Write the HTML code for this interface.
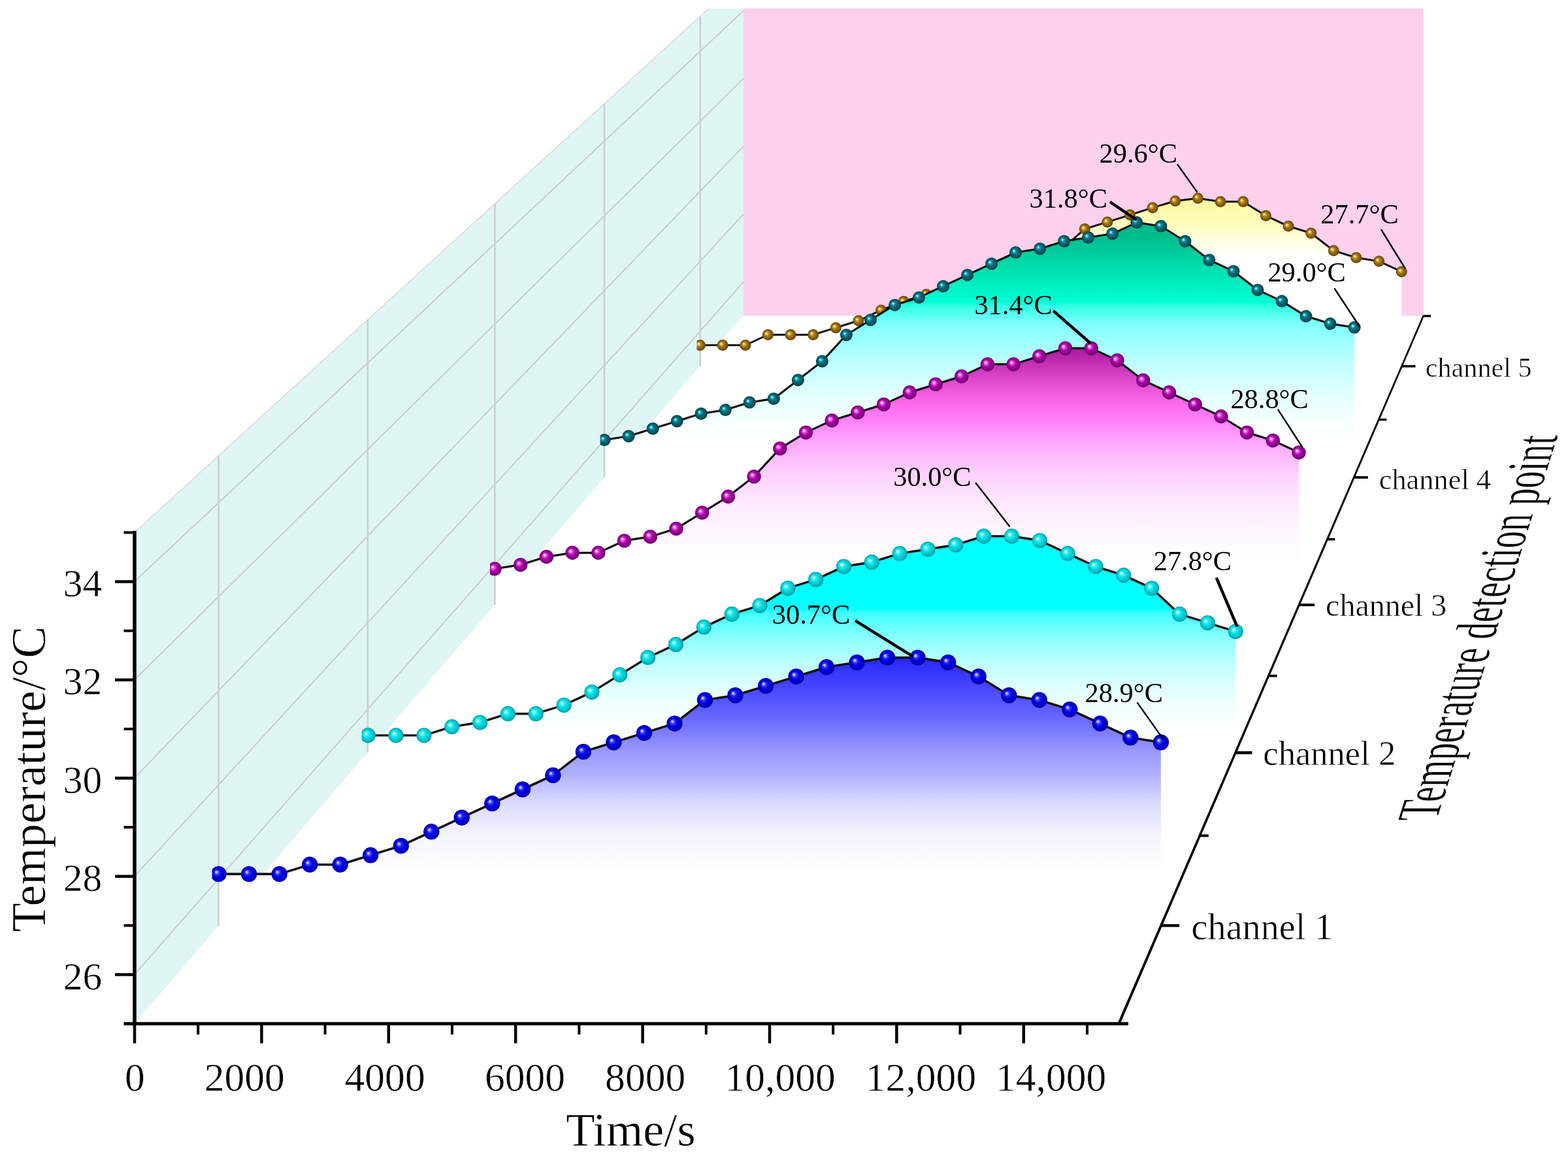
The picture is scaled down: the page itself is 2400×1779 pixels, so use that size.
<!DOCTYPE html>
<html lang="en">
<head>
<meta charset="utf-8">
<title>Temperature of detection channels over time</title>
<style>html,body{margin:0;padding:0;background:#fff;}body{width:2400px;height:1779px;}svg{display:block;}</style>
</head>
<body>
<svg width="2400" height="1779" viewBox="0 0 2400 1779" role="img" aria-label="Temperature of five detection channels over time">
<defs>
<linearGradient id="g1" gradientUnits="userSpaceOnUse" x1="0" y1="1006" x2="0" y2="1417.3">
<stop offset="0" stop-color="#2626ff"/>
<stop offset="0.22" stop-color="#6666ff"/>
<stop offset="0.35" stop-color="#9898ff"/>
<stop offset="0.44" stop-color="#b2b2ff"/>
<stop offset="0.55" stop-color="#dcdcff"/>
<stop offset="0.68" stop-color="#f6f6ff"/>
<stop offset="0.8" stop-color="#ffffff"/>
<stop offset="1" stop-color="#ffffff"/>
</linearGradient>
<radialGradient id="b1" cx="0.5" cy="0.5" r="0.52" fx="0.34" fy="0.36">
<stop offset="0" stop-color="#c8c8ff"/>
<stop offset="0.08" stop-color="#c8c8ff"/>
<stop offset="0.26" stop-color="#3838f8"/>
<stop offset="0.5" stop-color="#0000e6"/>
<stop offset="0.85" stop-color="#0000c0"/>
<stop offset="1" stop-color="#000088"/>
</radialGradient>
<linearGradient id="g2" gradientUnits="userSpaceOnUse" x1="0" y1="819" x2="0" y2="1152.4">
<stop offset="0" stop-color="#00ffff"/>
<stop offset="0.335" stop-color="#00ffff"/>
<stop offset="0.36" stop-color="#40ffff"/>
<stop offset="0.455" stop-color="#80ffff"/>
<stop offset="0.537" stop-color="#a8ffff"/>
<stop offset="0.618" stop-color="#c8ffff"/>
<stop offset="0.7" stop-color="#e0ffff"/>
<stop offset="0.78" stop-color="#f0ffff"/>
<stop offset="0.88" stop-color="#fbffff"/>
<stop offset="1" stop-color="#ffffff"/>
</linearGradient>
<radialGradient id="b2" cx="0.5" cy="0.5" r="0.52" fx="0.34" fy="0.36">
<stop offset="0" stop-color="#f0ffff"/>
<stop offset="0.08" stop-color="#f0ffff"/>
<stop offset="0.26" stop-color="#30f4f8"/>
<stop offset="0.5" stop-color="#00dce0"/>
<stop offset="0.85" stop-color="#00b4bc"/>
<stop offset="1" stop-color="#008890"/>
</radialGradient>
<linearGradient id="g3" gradientUnits="userSpaceOnUse" x1="0" y1="532" x2="0" y2="926.1">
<stop offset="0" stop-color="#a8189e"/>
<stop offset="0.17" stop-color="#f058dc"/>
<stop offset="0.228" stop-color="#ff6cee"/>
<stop offset="0.3" stop-color="#ff88fc"/>
<stop offset="0.357" stop-color="#ffa2ff"/>
<stop offset="0.487" stop-color="#ffd0ff"/>
<stop offset="0.616" stop-color="#ffecff"/>
<stop offset="0.7" stop-color="#fff5ff"/>
<stop offset="0.78" stop-color="#fffbff"/>
<stop offset="0.86" stop-color="#ffffff"/>
<stop offset="1" stop-color="#ffffff"/>
</linearGradient>
<radialGradient id="b3" cx="0.5" cy="0.5" r="0.52" fx="0.34" fy="0.36">
<stop offset="0" stop-color="#ffd0ff"/>
<stop offset="0.08" stop-color="#ffd0ff"/>
<stop offset="0.26" stop-color="#e050dc"/>
<stop offset="0.5" stop-color="#a800a4"/>
<stop offset="0.85" stop-color="#800080"/>
<stop offset="1" stop-color="#540054"/>
</radialGradient>
<linearGradient id="g4" gradientUnits="userSpaceOnUse" x1="0" y1="340" x2="0" y2="730.9">
<stop offset="0" stop-color="#00b488"/>
<stop offset="0.07" stop-color="#00c090"/>
<stop offset="0.217" stop-color="#00e8b8"/>
<stop offset="0.312" stop-color="#00ffd5"/>
<stop offset="0.328" stop-color="#30ffe4"/>
<stop offset="0.4" stop-color="#80ffff"/>
<stop offset="0.435" stop-color="#90ffff"/>
<stop offset="0.532" stop-color="#b8ffff"/>
<stop offset="0.662" stop-color="#e0ffff"/>
<stop offset="0.79" stop-color="#f8ffff"/>
<stop offset="0.9" stop-color="#ffffff"/>
<stop offset="1" stop-color="#ffffff"/>
</linearGradient>
<radialGradient id="b4" cx="0.5" cy="0.5" r="0.52" fx="0.34" fy="0.36">
<stop offset="0" stop-color="#98f0ff"/>
<stop offset="0.08" stop-color="#98f0ff"/>
<stop offset="0.26" stop-color="#1c94a4"/>
<stop offset="0.5" stop-color="#006a76"/>
<stop offset="0.85" stop-color="#004c56"/>
<stop offset="1" stop-color="#002c34"/>
</radialGradient>
<linearGradient id="g5" gradientUnits="userSpaceOnUse" x1="0" y1="302" x2="0" y2="560.7">
<stop offset="0" stop-color="#fffaa0"/>
<stop offset="0.055" stop-color="#fffaa8"/>
<stop offset="0.166" stop-color="#fffcc0"/>
<stop offset="0.25" stop-color="#fffee0"/>
<stop offset="0.34" stop-color="#fffffa"/>
<stop offset="0.4" stop-color="#ffffff"/>
<stop offset="1" stop-color="#ffffff"/>
</linearGradient>
<radialGradient id="b5" cx="0.5" cy="0.5" r="0.52" fx="0.34" fy="0.36">
<stop offset="0" stop-color="#ffeeb0"/>
<stop offset="0.08" stop-color="#ffeeb0"/>
<stop offset="0.26" stop-color="#d0a038"/>
<stop offset="0.5" stop-color="#9c7010"/>
<stop offset="0.85" stop-color="#74500a"/>
<stop offset="1" stop-color="#4c3200"/>
</radialGradient>
</defs>
<rect width="2400" height="1779" fill="#ffffff"/>
<clipPath id="wc"><rect x="0" y="13" width="2400" height="1779"/></clipPath>
<g clip-path="url(#wc)">
<polygon points="206,815 1138,-35.5 1138,483.5 206,1567" fill="#E0F6F5"/>
<line x1="206" y1="815" x2="1138" y2="-35.5" stroke="#DADADA" stroke-width="1.5"/>
<line x1="206" y1="1491.8" x2="1138" y2="431.6" stroke="#C4C9C9" stroke-width="1.8"/>
<line x1="206" y1="1341.4" x2="1138" y2="327.8" stroke="#C4C9C9" stroke-width="1.8"/>
<line x1="206" y1="1191" x2="1138" y2="224" stroke="#C4C9C9" stroke-width="1.8"/>
<line x1="206" y1="1040.6" x2="1138" y2="120.2" stroke="#C4C9C9" stroke-width="1.8"/>
<line x1="206" y1="890.2" x2="1138" y2="16.4" stroke="#C4C9C9" stroke-width="1.8"/>
</g>
<rect x="1138" y="13" width="1040.6" height="470.5" fill="#FDD0EC"/>
<polygon points="1071.5,560.7 1071.5,528.5 1106.1,528.5 1140.8,528.5 1175.4,512.5 1210,512.5 1244.7,512.5 1279.3,501.7 1313.9,491 1348.6,474.9 1383.2,461.5 1417.9,450.8 1452.5,445.5 1487.1,432.1 1521.8,421.3 1556.4,407.9 1591,397.2 1625.7,381.1 1660.3,350.6 1694.9,339.9 1729.6,329.1 1764.2,317.9 1798.8,307.7 1833.5,303.4 1868.1,308.8 1902.8,308.8 1937.4,330.2 1972,346.3 2006.7,357 2041.3,383.8 2075.9,394.5 2110.6,399.9 2145.2,416 2145.2,560.7" fill="url(#g5)"/>
<line x1="1071.8" y1="24.9" x2="1071.8" y2="560.7" stroke="#CDD2D2" stroke-width="2.8"/>
<polyline points="1071.5,528.5 1106.1,528.5 1140.8,528.5 1175.4,512.5 1210,512.5 1244.7,512.5 1279.3,501.7 1313.9,491 1348.6,474.9 1383.2,461.5 1417.9,450.8 1452.5,445.5 1487.1,432.1 1521.8,421.3 1556.4,407.9 1591,397.2 1625.7,381.1 1660.3,350.6 1694.9,339.9 1729.6,329.1 1764.2,317.9 1798.8,307.7 1833.5,303.4 1868.1,308.8 1902.8,308.8 1937.4,330.2 1972,346.3 2006.7,357 2041.3,383.8 2075.9,394.5 2110.6,399.9 2145.2,416" fill="none" stroke="#101010" stroke-width="3.0" stroke-linejoin="round"/>
<clipPath id="c5"><rect x="1066.5" y="0" width="2400" height="1779"/></clipPath>
<g fill="url(#b5)" clip-path="url(#c5)">
<circle cx="1071.5" cy="528.5" r="8.5"/>
<circle cx="1106.1" cy="528.5" r="8.5"/>
<circle cx="1140.8" cy="528.5" r="8.5"/>
<circle cx="1175.4" cy="512.5" r="8.5"/>
<circle cx="1210" cy="512.5" r="8.5"/>
<circle cx="1244.7" cy="512.5" r="8.5"/>
<circle cx="1279.3" cy="501.7" r="8.5"/>
<circle cx="1313.9" cy="491" r="8.5"/>
<circle cx="1348.6" cy="474.9" r="8.5"/>
<circle cx="1383.2" cy="461.5" r="8.5"/>
<circle cx="1417.9" cy="450.8" r="8.5"/>
<circle cx="1452.5" cy="445.5" r="8.5"/>
<circle cx="1487.1" cy="432.1" r="8.5"/>
<circle cx="1521.8" cy="421.3" r="8.5"/>
<circle cx="1556.4" cy="407.9" r="8.5"/>
<circle cx="1591" cy="397.2" r="8.5"/>
<circle cx="1625.7" cy="381.1" r="8.5"/>
<circle cx="1660.3" cy="350.6" r="8.5"/>
<circle cx="1694.9" cy="339.9" r="8.5"/>
<circle cx="1729.6" cy="329.1" r="8.5"/>
<circle cx="1764.2" cy="317.9" r="8.5"/>
<circle cx="1798.8" cy="307.7" r="8.5"/>
<circle cx="1833.5" cy="303.4" r="8.5"/>
<circle cx="1868.1" cy="308.8" r="8.5"/>
<circle cx="1902.8" cy="308.8" r="8.5"/>
<circle cx="1937.4" cy="330.2" r="8.5"/>
<circle cx="1972" cy="346.3" r="8.5"/>
<circle cx="2006.7" cy="357" r="8.5"/>
<circle cx="2041.3" cy="383.8" r="8.5"/>
<circle cx="2075.9" cy="394.5" r="8.5"/>
<circle cx="2110.6" cy="399.9" r="8.5"/>
<circle cx="2145.2" cy="416" r="8.5"/>
</g>
<polygon points="925.1,730.9 925.1,673.5 962.1,667.8 999.2,656.3 1036.2,644.8 1073.2,633.3 1110.3,627.6 1147.3,616.1 1184.3,610.4 1221.4,581.7 1258.4,553 1295.4,512.8 1332.5,489.8 1369.5,466.9 1406.5,455.4 1443.6,438.2 1480.6,420.9 1517.6,403.7 1554.6,386.5 1591.7,380.8 1628.7,369.3 1665.7,363.5 1702.8,357.8 1739.8,340.6 1776.8,346.3 1813.9,369.3 1850.9,398 1887.9,415.2 1925,443.9 1962,461.1 1999,484.1 2036.1,495.6 2073.1,501.3 2073.1,730.9" fill="url(#g4)"/>
<line x1="925" y1="158.9" x2="925" y2="730.9" stroke="#CDD2D2" stroke-width="2.8"/>
<polyline points="925.1,673.5 962.1,667.8 999.2,656.3 1036.2,644.8 1073.2,633.3 1110.3,627.6 1147.3,616.1 1184.3,610.4 1221.4,581.7 1258.4,553 1295.4,512.8 1332.5,489.8 1369.5,466.9 1406.5,455.4 1443.6,438.2 1480.6,420.9 1517.6,403.7 1554.6,386.5 1591.7,380.8 1628.7,369.3 1665.7,363.5 1702.8,357.8 1739.8,340.6 1776.8,346.3 1813.9,369.3 1850.9,398 1887.9,415.2 1925,443.9 1962,461.1 1999,484.1 2036.1,495.6 2073.1,501.3" fill="none" stroke="#101010" stroke-width="3.1" stroke-linejoin="round"/>
<clipPath id="c4"><rect x="918.6" y="0" width="2400" height="1779"/></clipPath>
<g fill="url(#b4)" clip-path="url(#c4)">
<circle cx="925.1" cy="673.5" r="9.5"/>
<circle cx="962.1" cy="667.8" r="9.5"/>
<circle cx="999.2" cy="656.3" r="9.5"/>
<circle cx="1036.2" cy="644.8" r="9.5"/>
<circle cx="1073.2" cy="633.3" r="9.5"/>
<circle cx="1110.3" cy="627.6" r="9.5"/>
<circle cx="1147.3" cy="616.1" r="9.5"/>
<circle cx="1184.3" cy="610.4" r="9.5"/>
<circle cx="1221.4" cy="581.7" r="9.5"/>
<circle cx="1258.4" cy="553" r="9.5"/>
<circle cx="1295.4" cy="512.8" r="9.5"/>
<circle cx="1332.5" cy="489.8" r="9.5"/>
<circle cx="1369.5" cy="466.9" r="9.5"/>
<circle cx="1406.5" cy="455.4" r="9.5"/>
<circle cx="1443.6" cy="438.2" r="9.5"/>
<circle cx="1480.6" cy="420.9" r="9.5"/>
<circle cx="1517.6" cy="403.7" r="9.5"/>
<circle cx="1554.6" cy="386.5" r="9.5"/>
<circle cx="1591.7" cy="380.8" r="9.5"/>
<circle cx="1628.7" cy="369.3" r="9.5"/>
<circle cx="1665.7" cy="363.5" r="9.5"/>
<circle cx="1702.8" cy="357.8" r="9.5"/>
<circle cx="1739.8" cy="340.6" r="9.5"/>
<circle cx="1776.8" cy="346.3" r="9.5"/>
<circle cx="1813.9" cy="369.3" r="9.5"/>
<circle cx="1850.9" cy="398" r="9.5"/>
<circle cx="1887.9" cy="415.2" r="9.5"/>
<circle cx="1925" cy="443.9" r="9.5"/>
<circle cx="1962" cy="461.1" r="9.5"/>
<circle cx="1999" cy="484.1" r="9.5"/>
<circle cx="2036.1" cy="495.6" r="9.5"/>
<circle cx="2073.1" cy="501.3" r="9.5"/>
</g>
<polygon points="757,926.1 757,870.8 796.7,864.7 836.4,852.4 876.1,846.3 915.8,846.3 955.5,827.9 995.3,821.7 1035,809.4 1074.7,784.9 1114.4,760.3 1154.1,729.6 1193.8,686.6 1233.5,662.1 1273.2,643.7 1312.9,631.4 1352.6,619.1 1392.4,600.7 1432.1,588.4 1471.8,576.1 1511.5,557.7 1551.2,557.7 1590.9,545.4 1630.6,533.1 1670.3,533.1 1710,551.6 1749.7,582.3 1789.5,600.7 1829.2,619.1 1868.9,637.5 1908.6,662.1 1948.3,674.4 1988,692.8 1988,926.1" fill="url(#g3)"/>
<line x1="757.4" y1="311.8" x2="757.4" y2="926.1" stroke="#CDD2D2" stroke-width="2.8"/>
<polyline points="757,870.8 796.7,864.7 836.4,852.4 876.1,846.3 915.8,846.3 955.5,827.9 995.3,821.7 1035,809.4 1074.7,784.9 1114.4,760.3 1154.1,729.6 1193.8,686.6 1233.5,662.1 1273.2,643.7 1312.9,631.4 1352.6,619.1 1392.4,600.7 1432.1,588.4 1471.8,576.1 1511.5,557.7 1551.2,557.7 1590.9,545.4 1630.6,533.1 1670.3,533.1 1710,551.6 1749.7,582.3 1789.5,600.7 1829.2,619.1 1868.9,637.5 1908.6,662.1 1948.3,674.4 1988,692.8" fill="none" stroke="#101010" stroke-width="3.2" stroke-linejoin="round"/>
<clipPath id="c3"><rect x="750" y="0" width="2400" height="1779"/></clipPath>
<g fill="url(#b3)" clip-path="url(#c3)">
<circle cx="757" cy="870.8" r="10.7"/>
<circle cx="796.7" cy="864.7" r="10.7"/>
<circle cx="836.4" cy="852.4" r="10.7"/>
<circle cx="876.1" cy="846.3" r="10.7"/>
<circle cx="915.8" cy="846.3" r="10.7"/>
<circle cx="955.5" cy="827.9" r="10.7"/>
<circle cx="995.3" cy="821.7" r="10.7"/>
<circle cx="1035" cy="809.4" r="10.7"/>
<circle cx="1074.7" cy="784.9" r="10.7"/>
<circle cx="1114.4" cy="760.3" r="10.7"/>
<circle cx="1154.1" cy="729.6" r="10.7"/>
<circle cx="1193.8" cy="686.6" r="10.7"/>
<circle cx="1233.5" cy="662.1" r="10.7"/>
<circle cx="1273.2" cy="643.7" r="10.7"/>
<circle cx="1312.9" cy="631.4" r="10.7"/>
<circle cx="1352.6" cy="619.1" r="10.7"/>
<circle cx="1392.4" cy="600.7" r="10.7"/>
<circle cx="1432.1" cy="588.4" r="10.7"/>
<circle cx="1471.8" cy="576.1" r="10.7"/>
<circle cx="1511.5" cy="557.7" r="10.7"/>
<circle cx="1551.2" cy="557.7" r="10.7"/>
<circle cx="1590.9" cy="545.4" r="10.7"/>
<circle cx="1630.6" cy="533.1" r="10.7"/>
<circle cx="1670.3" cy="533.1" r="10.7"/>
<circle cx="1710" cy="551.6" r="10.7"/>
<circle cx="1749.7" cy="582.3" r="10.7"/>
<circle cx="1789.5" cy="600.7" r="10.7"/>
<circle cx="1829.2" cy="619.1" r="10.7"/>
<circle cx="1868.9" cy="637.5" r="10.7"/>
<circle cx="1908.6" cy="662.1" r="10.7"/>
<circle cx="1948.3" cy="674.4" r="10.7"/>
<circle cx="1988" cy="692.8" r="10.7"/>
</g>
<polygon points="563.2,1152.4 563.2,1125.9 606,1125.9 648.9,1125.9 691.7,1112.6 734.6,1106 777.4,1092.7 820.2,1092.7 863.1,1079.5 905.9,1059.6 948.7,1033.1 991.6,1006.5 1034.4,986.7 1077.3,960.1 1120.1,940.2 1162.9,927 1205.8,900.5 1248.6,887.2 1291.5,867.3 1334.3,860.7 1377.1,847.4 1420,840.8 1462.8,834.2 1505.7,820.9 1548.5,820.9 1591.3,827.5 1634.2,847.4 1677,867.3 1719.8,880.6 1762.7,900.5 1805.5,940.2 1848.4,953.5 1891.2,966.8 1891.2,1152.4" fill="url(#g2)"/>
<line x1="562.8" y1="489.4" x2="562.8" y2="1152.4" stroke="#CDD2D2" stroke-width="2.8"/>
<polyline points="563.2,1125.9 606,1125.9 648.9,1125.9 691.7,1112.6 734.6,1106 777.4,1092.7 820.2,1092.7 863.1,1079.5 905.9,1059.6 948.7,1033.1 991.6,1006.5 1034.4,986.7 1077.3,960.1 1120.1,940.2 1162.9,927 1205.8,900.5 1248.6,887.2 1291.5,867.3 1334.3,860.7 1377.1,847.4 1420,840.8 1462.8,834.2 1505.7,820.9 1548.5,820.9 1591.3,827.5 1634.2,847.4 1677,867.3 1719.8,880.6 1762.7,900.5 1805.5,940.2 1848.4,953.5 1891.2,966.8" fill="none" stroke="#101010" stroke-width="3.4" stroke-linejoin="round"/>
<clipPath id="c2"><rect x="553.7" y="0" width="2400" height="1779"/></clipPath>
<g fill="url(#b2)" clip-path="url(#c2)">
<circle cx="563.2" cy="1125.9" r="11.6"/>
<circle cx="606" cy="1125.9" r="11.6"/>
<circle cx="648.9" cy="1125.9" r="11.6"/>
<circle cx="691.7" cy="1112.6" r="11.6"/>
<circle cx="734.6" cy="1106" r="11.6"/>
<circle cx="777.4" cy="1092.7" r="11.6"/>
<circle cx="820.2" cy="1092.7" r="11.6"/>
<circle cx="863.1" cy="1079.5" r="11.6"/>
<circle cx="905.9" cy="1059.6" r="11.6"/>
<circle cx="948.7" cy="1033.1" r="11.6"/>
<circle cx="991.6" cy="1006.5" r="11.6"/>
<circle cx="1034.4" cy="986.7" r="11.6"/>
<circle cx="1077.3" cy="960.1" r="11.6"/>
<circle cx="1120.1" cy="940.2" r="11.6"/>
<circle cx="1162.9" cy="927" r="11.6"/>
<circle cx="1205.8" cy="900.5" r="11.6"/>
<circle cx="1248.6" cy="887.2" r="11.6"/>
<circle cx="1291.5" cy="867.3" r="11.6"/>
<circle cx="1334.3" cy="860.7" r="11.6"/>
<circle cx="1377.1" cy="847.4" r="11.6"/>
<circle cx="1420" cy="840.8" r="11.6"/>
<circle cx="1462.8" cy="834.2" r="11.6"/>
<circle cx="1505.7" cy="820.9" r="11.6"/>
<circle cx="1548.5" cy="820.9" r="11.6"/>
<circle cx="1591.3" cy="827.5" r="11.6"/>
<circle cx="1634.2" cy="847.4" r="11.6"/>
<circle cx="1677" cy="867.3" r="11.6"/>
<circle cx="1719.8" cy="880.6" r="11.6"/>
<circle cx="1762.7" cy="900.5" r="11.6"/>
<circle cx="1805.5" cy="940.2" r="11.6"/>
<circle cx="1848.4" cy="953.5" r="11.6"/>
<circle cx="1891.2" cy="966.8" r="11.6"/>
</g>
<polygon points="334.6,1417.3 334.6,1338.1 381.1,1338.1 427.7,1338.1 474.2,1323.7 520.7,1323.7 567.2,1309.3 613.8,1294.9 660.3,1273.3 706.8,1251.7 753.3,1230.1 799.9,1208.5 846.4,1186.9 892.9,1150.9 939.4,1136.5 986,1122.1 1032.5,1107.7 1079,1071.7 1125.5,1064.5 1172.1,1050.1 1218.6,1035.7 1265.1,1021.3 1311.6,1014.1 1358.2,1006.9 1404.7,1006.9 1451.2,1014.1 1497.7,1035.7 1544.3,1064.5 1590.8,1071.7 1637.3,1086.1 1683.8,1107.7 1730.4,1129.3 1776.9,1136.5 1776.9,1417.3" fill="url(#g1)"/>
<line x1="334.5" y1="697.7" x2="334.5" y2="1417.3" stroke="#CDD2D2" stroke-width="2.8"/>
<polyline points="334.6,1338.1 381.1,1338.1 427.7,1338.1 474.2,1323.7 520.7,1323.7 567.2,1309.3 613.8,1294.9 660.3,1273.3 706.8,1251.7 753.3,1230.1 799.9,1208.5 846.4,1186.9 892.9,1150.9 939.4,1136.5 986,1122.1 1032.5,1107.7 1079,1071.7 1125.5,1064.5 1172.1,1050.1 1218.6,1035.7 1265.1,1021.3 1311.6,1014.1 1358.2,1006.9 1404.7,1006.9 1451.2,1014.1 1497.7,1035.7 1544.3,1064.5 1590.8,1071.7 1637.3,1086.1 1683.8,1107.7 1730.4,1129.3 1776.9,1136.5" fill="none" stroke="#101010" stroke-width="3.6" stroke-linejoin="round"/>
<clipPath id="c1"><rect x="324.6" y="0" width="2400" height="1779"/></clipPath>
<g fill="url(#b1)" clip-path="url(#c1)">
<circle cx="334.6" cy="1338.1" r="12.2"/>
<circle cx="381.1" cy="1338.1" r="12.2"/>
<circle cx="427.7" cy="1338.1" r="12.2"/>
<circle cx="474.2" cy="1323.7" r="12.2"/>
<circle cx="520.7" cy="1323.7" r="12.2"/>
<circle cx="567.2" cy="1309.3" r="12.2"/>
<circle cx="613.8" cy="1294.9" r="12.2"/>
<circle cx="660.3" cy="1273.3" r="12.2"/>
<circle cx="706.8" cy="1251.7" r="12.2"/>
<circle cx="753.3" cy="1230.1" r="12.2"/>
<circle cx="799.9" cy="1208.5" r="12.2"/>
<circle cx="846.4" cy="1186.9" r="12.2"/>
<circle cx="892.9" cy="1150.9" r="12.2"/>
<circle cx="939.4" cy="1136.5" r="12.2"/>
<circle cx="986" cy="1122.1" r="12.2"/>
<circle cx="1032.5" cy="1107.7" r="12.2"/>
<circle cx="1079" cy="1071.7" r="12.2"/>
<circle cx="1125.5" cy="1064.5" r="12.2"/>
<circle cx="1172.1" cy="1050.1" r="12.2"/>
<circle cx="1218.6" cy="1035.7" r="12.2"/>
<circle cx="1265.1" cy="1021.3" r="12.2"/>
<circle cx="1311.6" cy="1014.1" r="12.2"/>
<circle cx="1358.2" cy="1006.9" r="12.2"/>
<circle cx="1404.7" cy="1006.9" r="12.2"/>
<circle cx="1451.2" cy="1014.1" r="12.2"/>
<circle cx="1497.7" cy="1035.7" r="12.2"/>
<circle cx="1544.3" cy="1064.5" r="12.2"/>
<circle cx="1590.8" cy="1071.7" r="12.2"/>
<circle cx="1637.3" cy="1086.1" r="12.2"/>
<circle cx="1683.8" cy="1107.7" r="12.2"/>
<circle cx="1730.4" cy="1129.3" r="12.2"/>
<circle cx="1776.9" cy="1136.5" r="12.2"/>
</g>
<g stroke="#000" fill="none" stroke-linecap="butt">
<line x1="189.5" y1="1567.3" x2="1727" y2="1567.3" stroke-width="5.0"/>
<line x1="206" y1="812.75" x2="206" y2="1569.8" stroke-width="5.5"/>
<line x1="176" y1="1492.1" x2="206" y2="1492.1" stroke-width="4.5"/>
<line x1="189.5" y1="1416.9" x2="206" y2="1416.9" stroke-width="4.0"/>
<line x1="176" y1="1341.7" x2="206" y2="1341.7" stroke-width="4.5"/>
<line x1="189.5" y1="1266.5" x2="206" y2="1266.5" stroke-width="4.0"/>
<line x1="176" y1="1191.3" x2="206" y2="1191.3" stroke-width="4.5"/>
<line x1="189.5" y1="1116.1" x2="206" y2="1116.1" stroke-width="4.0"/>
<line x1="176" y1="1040.9" x2="206" y2="1040.9" stroke-width="4.5"/>
<line x1="189.5" y1="965.7" x2="206" y2="965.7" stroke-width="4.0"/>
<line x1="176" y1="890.5" x2="206" y2="890.5" stroke-width="4.5"/>
<line x1="189.5" y1="815.3" x2="206" y2="815.3" stroke-width="4.0"/>
<line x1="206" y1="1567.3" x2="206" y2="1597.3" stroke-width="4.5"/>
<line x1="303.2" y1="1567.3" x2="303.2" y2="1583.8" stroke-width="4.0"/>
<line x1="400.4" y1="1567.3" x2="400.4" y2="1597.3" stroke-width="4.5"/>
<line x1="497.6" y1="1567.3" x2="497.6" y2="1583.8" stroke-width="4.0"/>
<line x1="594.8" y1="1567.3" x2="594.8" y2="1597.3" stroke-width="4.5"/>
<line x1="692" y1="1567.3" x2="692" y2="1583.8" stroke-width="4.0"/>
<line x1="789.2" y1="1567.3" x2="789.2" y2="1597.3" stroke-width="4.5"/>
<line x1="886.4" y1="1567.3" x2="886.4" y2="1583.8" stroke-width="4.0"/>
<line x1="983.6" y1="1567.3" x2="983.6" y2="1597.3" stroke-width="4.5"/>
<line x1="1080.8" y1="1567.3" x2="1080.8" y2="1583.8" stroke-width="4.0"/>
<line x1="1178" y1="1567.3" x2="1178" y2="1597.3" stroke-width="4.5"/>
<line x1="1275.2" y1="1567.3" x2="1275.2" y2="1583.8" stroke-width="4.0"/>
<line x1="1372.4" y1="1567.3" x2="1372.4" y2="1597.3" stroke-width="4.5"/>
<line x1="1469.6" y1="1567.3" x2="1469.6" y2="1583.8" stroke-width="4.0"/>
<line x1="1566.8" y1="1567.3" x2="1566.8" y2="1597.3" stroke-width="4.5"/>
<line x1="1664" y1="1567.3" x2="1664" y2="1583.8" stroke-width="4.0"/>
<polygon stroke="none" fill="#000" points="1713.84,1569.17 2179.99,483.81 2177.61,482.79 1710.17,1567.59"/>
<line x1="1777.1" y1="1417" x2="1805.1" y2="1417" stroke-width="4.4"/>
<line x1="1836.3" y1="1279.4" x2="1849.8" y2="1279.4" stroke-width="4.0"/>
<line x1="1891" y1="1152.4" x2="1916.5" y2="1152.4" stroke-width="4.5"/>
<line x1="1941.6" y1="1034.7" x2="1954.6" y2="1034.7" stroke-width="3.8"/>
<line x1="1988.3" y1="926.1" x2="2012.3" y2="926.1" stroke-width="4.0"/>
<line x1="2031.5" y1="825.6" x2="2043.5" y2="825.6" stroke-width="3.6"/>
<line x1="2072.3" y1="730.9" x2="2093.8" y2="730.9" stroke-width="3.8"/>
<line x1="2110.4" y1="642.4" x2="2122.4" y2="642.4" stroke-width="3.4"/>
<line x1="2145.5" y1="560.7" x2="2166.5" y2="560.7" stroke-width="3.6"/>
<line x1="2178.6" y1="483.8" x2="2190.1" y2="483.8" stroke-width="3.4"/>
</g>
<g font-family="'Liberation Serif', serif" fill="#000">
<text x="96.8" y="1514.6" font-size="59.4" text-anchor="start" stroke="#fff" stroke-width="0.55">26</text>
<text x="96.8" y="1364.2" font-size="59.4" text-anchor="start" stroke="#fff" stroke-width="0.55">28</text>
<text x="96.8" y="1213.8" font-size="59.4" text-anchor="start" stroke="#fff" stroke-width="0.55">30</text>
<text x="96.8" y="1063.4" font-size="59.4" text-anchor="start" stroke="#fff" stroke-width="0.55">32</text>
<text x="96.8" y="913.0" font-size="59.4" text-anchor="start" stroke="#fff" stroke-width="0.55">34</text>
<text x="206.3" y="1670.3" font-size="61.6" text-anchor="middle" stroke="#fff" stroke-width="0.55">0</text>
<text x="374.3" y="1670.3" font-size="61.6" text-anchor="middle" stroke="#fff" stroke-width="0.55">2000</text>
<text x="589.1" y="1670.3" font-size="61.6" text-anchor="middle" stroke="#fff" stroke-width="0.55">4000</text>
<text x="803.5" y="1670.3" font-size="61.6" text-anchor="middle" stroke="#fff" stroke-width="0.55">6000</text>
<text x="987.7" y="1670.3" font-size="61.6" text-anchor="middle" stroke="#fff" stroke-width="0.55">8000</text>
<text x="1194.2" y="1670.3" font-size="61.6" text-anchor="middle" stroke="#fff" stroke-width="0.55">10,000</text>
<text x="1409.5" y="1670.3" font-size="61.6" text-anchor="middle" stroke="#fff" stroke-width="0.55">12,000</text>
<text x="1608.6" y="1670.3" font-size="61.6" text-anchor="middle" stroke="#fff" stroke-width="0.55">14,000</text>
<text x="965.4" y="1754.3" font-size="72.4" text-anchor="middle" stroke="#fff" stroke-width="0.55">Time/s</text>
<text x="0" y="0" font-size="73.4" text-anchor="middle" transform="translate(69.3 1192.9) rotate(-90)" stroke="#fff" stroke-width="0.55">Temperature/°C</text>
<text x="0" y="0" font-size="96" text-anchor="start" transform="matrix(0.172 -0.546 0.94 0 2199 1256)" stroke="#fff" stroke-width="0.55">Temperature detection point</text>
<text x="1823.6" y="1437.8" font-size="56.2" text-anchor="start" stroke="#fff" stroke-width="0.55">channel 1</text>
<text x="1933.3" y="1170.6" font-size="52.6" text-anchor="start" stroke="#fff" stroke-width="0.55">channel 2</text>
<text x="2029.1" y="942.6" font-size="48.0" text-anchor="start" stroke="#fff" stroke-width="0.55">channel 3</text>
<text x="2110.7" y="748.8" font-size="44.4" text-anchor="start" stroke="#fff" stroke-width="0.55">channel 4</text>
<text x="2181.8" y="577.2" font-size="42.2" text-anchor="start" stroke="#fff" stroke-width="0.55">channel 5</text>
<text x="1181.8" y="954.5" font-size="42.4" text-anchor="start">30.7°C</text>
<text x="1660.6" y="1074.6" font-size="42.4" text-anchor="start">28.9°C</text>
<text x="1367.2" y="744.1" font-size="42.4" text-anchor="start">30.0°C</text>
<text x="1765.7" y="873.1" font-size="42.4" text-anchor="start">27.8°C</text>
<text x="1491.4" y="480.5" font-size="42.4" text-anchor="start">31.4°C</text>
<text x="1883.4" y="624.5" font-size="42.4" text-anchor="start">28.8°C</text>
<text x="1575.6" y="318.0" font-size="42.4" text-anchor="start">31.8°C</text>
<text x="1940.4" y="431.2" font-size="42.4" text-anchor="start">29.0°C</text>
<text x="1682.6" y="249.1" font-size="42.4" text-anchor="start">29.6°C</text>
<text x="2021.3" y="342.1" font-size="42.4" text-anchor="start">27.7°C</text>
</g>
<g stroke="#000" stroke-linecap="butt">
<line x1="1308.9" y1="950.2" x2="1397.4" y2="1005.2" stroke-width="4.5"/>
<line x1="1740.5" y1="1075.4" x2="1780.4" y2="1131.6" stroke-width="2.5"/>
<line x1="1493.2" y1="738.9" x2="1545.5" y2="806.2" stroke-width="2.5"/>
<line x1="1861.8" y1="884.3" x2="1893.6" y2="959.4" stroke-width="4.5"/>
<line x1="1612.2" y1="475.9" x2="1669.4" y2="525.7" stroke-width="4.5"/>
<line x1="1955.8" y1="626.6" x2="1993.4" y2="684.6" stroke-width="2.5"/>
<line x1="1698.8" y1="309.0" x2="1739.5" y2="336.6" stroke-width="4.5"/>
<line x1="2042.4" y1="441.4" x2="2081.2" y2="500.2" stroke-width="2.5"/>
<line x1="1802" y1="251.4" x2="1832.6" y2="294.4" stroke-width="2.5"/>
<line x1="2113.9" y1="351.1" x2="2150.7" y2="411" stroke-width="2.5"/>
</g>
</svg>
</body>
</html>
